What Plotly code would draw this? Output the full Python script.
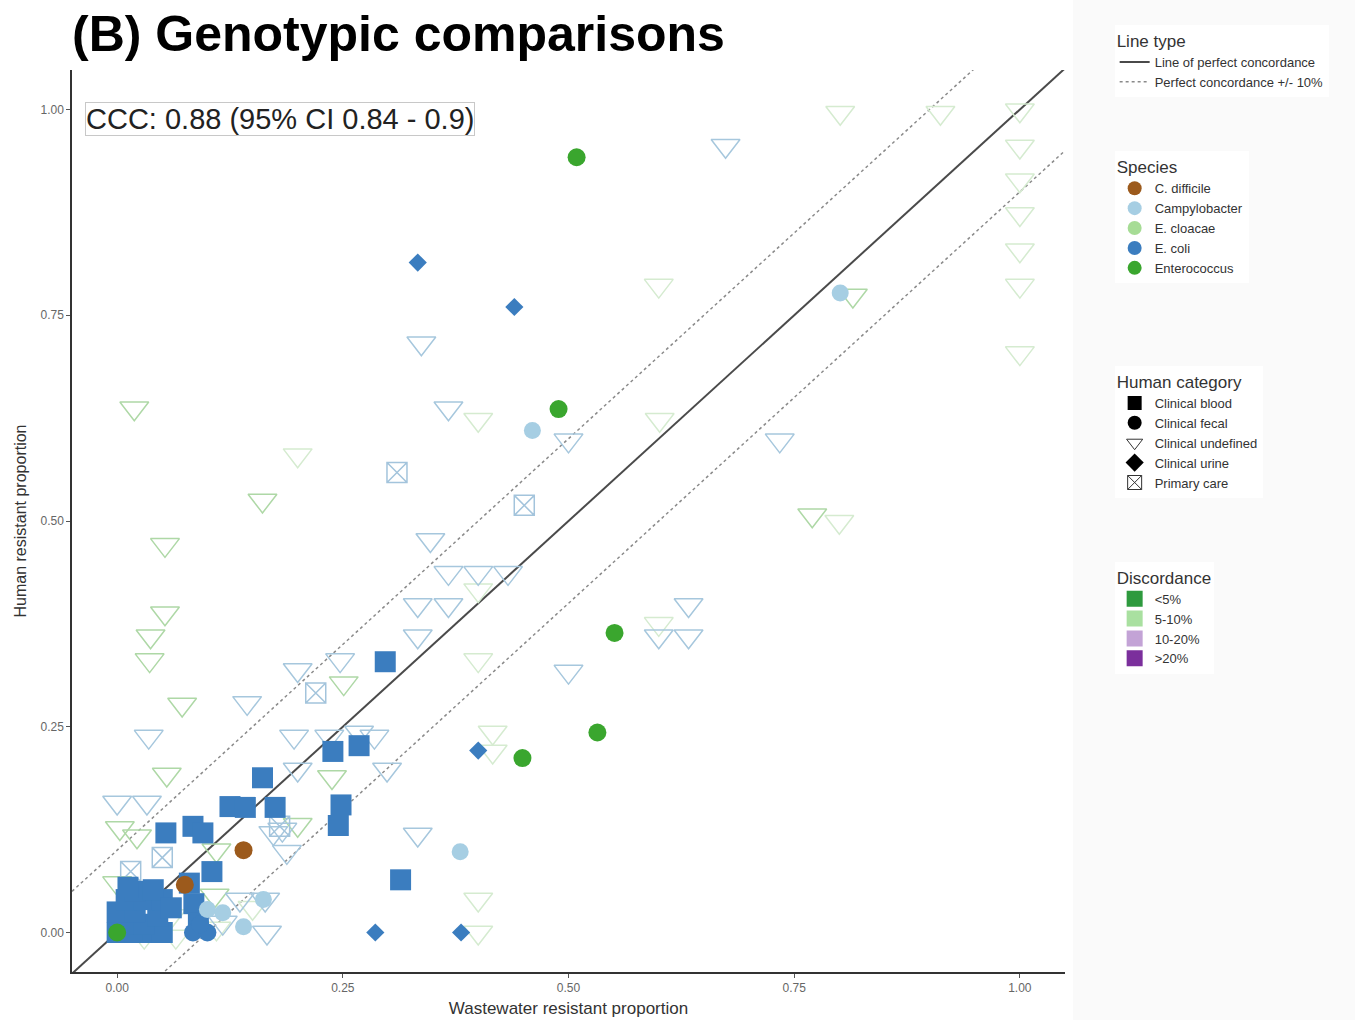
import plotly.graph_objects as go

# ---------------- data ----------------
# E. coli, Clinical blood (filled squares)
ecoli_blood_x = [0.297, 0.239, 0.268, 0.248, 0.245, 0.314, 0.161, 0.125, 0.142, 0.175,
                 0.054, 0.084, 0.095, 0.105, 0.080, 0.085, 0.090,
                 0.000, 0.020, 0.040, 0.050, 0.010, 0.030, 0.000, 0.020, 0.045,
                 0.010, 0.030, 0.050, 0.020, 0.040, 0.060, 0.012]
ecoli_blood_y = [0.329, 0.220, 0.227, 0.155, 0.130, 0.064, 0.188, 0.153, 0.152, 0.152,
                 0.121, 0.129, 0.121, 0.074, 0.060, 0.035, 0.012,
                 0.000, 0.000, 0.000, 0.000, 0.010, 0.010, 0.025, 0.025, 0.020,
                 0.040, 0.040, 0.040, 0.050, 0.052, 0.030, 0.055]
# E. coli, Clinical fecal (filled circles)
ecoli_fecal_x = [0.084, 0.100, 0.092]
ecoli_fecal_y = [0.000, 0.000, 0.010]
# E. coli, Clinical urine (filled diamonds)
ecoli_urine_x = [0.333, 0.440, 0.400, 0.286, 0.381]
ecoli_urine_y = [0.814, 0.760, 0.221, 0.000, 0.000]
# Campylobacter, Clinical fecal
campy_x = [0.460, 0.801, 0.380, 0.100, 0.117, 0.140, 0.162]
campy_y = [0.610, 0.777, 0.098, 0.028, 0.024, 0.007, 0.040]
# C. difficile, Clinical fecal
cdiff_x = [0.140, 0.075]
cdiff_y = [0.100, 0.058]
# Enterococcus, Clinical fecal
entero_x = [0.509, 0.489, 0.551, 0.532, 0.449, 0.000]
entero_y = [0.942, 0.636, 0.364, 0.243, 0.212, 0.000]
# Primary care (boxed cross)
primary_x = [0.310, 0.451, 0.220, 0.050, 0.015, 0.180]
primary_y = [0.559, 0.519, 0.291, 0.091, 0.074, 0.129]
# Clinical undefined (open triangles), three shading groups
und_blue_x = [0.674, 0.337, 0.367, 0.500, 0.734, 0.347, 0.367, 0.400, 0.433, 0.333,
              0.367, 0.633, 0.333, 0.600, 0.633, 0.200, 0.247, 0.500, 0.144, 0.035,
              0.196, 0.235, 0.268, 0.285, 0.299, 0.000, 0.033, 0.173, 0.183, 0.333,
              0.188, 0.166, 0.164, 0.136, 0.117, 0.200]
und_blue_y = [0.956, 0.716, 0.637, 0.598, 0.598, 0.477, 0.437, 0.437, 0.437, 0.398,
              0.398, 0.398, 0.360, 0.360, 0.360, 0.319, 0.331, 0.317, 0.279, 0.238,
              0.238, 0.238, 0.243, 0.238, 0.198, 0.158, 0.158, 0.121, 0.125, 0.119,
              0.098, 0.000, 0.040, 0.040, 0.012, 0.198]
und_green_x = [0.019, 0.161, 0.053, 0.053, 0.037, 0.036, 0.251, 0.072, 0.055, 0.238,
               0.770, 0.815, 0.200, 0.110, 0.003, 0.022, 0.000, 0.108]
und_green_y = [0.637, 0.525, 0.471, 0.388, 0.360, 0.331, 0.303, 0.277, 0.192, 0.189,
               0.507, 0.774, 0.131, 0.100, 0.127, 0.117, 0.060, 0.045]
und_faint_x = [0.801, 0.912, 1.000, 1.000, 1.000, 1.000, 1.000, 1.000, 0.600, 1.000,
               0.400, 0.601, 0.200, 0.800, 0.400, 0.600, 0.400, 0.416, 0.416, 0.400,
               0.400, 0.030, 0.065, 0.110, 0.060, 0.150]
und_faint_y = [0.996, 0.996, 0.999, 0.955, 0.914, 0.873, 0.829, 0.786, 0.786, 0.704,
               0.623, 0.623, 0.580, 0.499, 0.416, 0.375, 0.331, 0.243, 0.220, 0.040,
               0.000, -0.005, -0.005, 0.005, 0.020, 0.030]

# reference lines
line_x = [-0.05, 1.05]
band = 0.10

tick_vals = [0.00, 0.25, 0.50, 0.75, 1.00]
tick_text = ["0.00", "0.25", "0.50", "0.75", "1.00"]

species_names = ["C. difficile", "Campylobacter", "E. cloacae", "E. coli", "Enterococcus"]
species_colors = ["#9c5a1c", "#a6cee3", "#a6dc95", "#3b7dbf", "#3aa62e"]
category_names = ["Clinical blood", "Clinical fecal", "Clinical undefined", "Clinical urine", "Primary care"]
category_symbols = ["square", "circle", "triangle-down-open", "diamond", "square-x-open"]
discord_names = ["<5%", "5-10%", "10-20%", ">20%"]
discord_colors = ["#2e9a3e", "#a9e0a0", "#c3a3d6", "#7b2f9c"]

# ---------------- figure ----------------
FONT = "Liberation Sans, Arial, sans-serif"
fig = go.Figure()

# concordance lines
fig.add_trace(go.Scatter(x=line_x, y=line_x, mode="lines",
                         line=dict(color="#4a4a4a", width=2),
                         name="Line of perfect concordance", legend="legend"))
up_y = [v + band for v in line_x]
lo_y = [v - band for v in line_x]
fig.add_trace(go.Scatter(x=line_x + [None] + line_x, y=up_y + [None] + lo_y, mode="lines",
                         line=dict(color="#8a8a8a", width=1.5, dash="dot"),
                         name="Perfect concordance +/- 10%", legend="legend"))

def pts(x, y, symbol, size, color, lw=0, opacity=1.0):
    if symbol.endswith("open"):
        mk = dict(symbol=symbol, size=size, color=color, line=dict(width=lw, color=color))
    else:
        mk = dict(symbol=symbol, size=size, color=color, line=dict(width=0))
    fig.add_trace(go.Scatter(x=x, y=y, mode="markers", marker=mk, opacity=opacity,
                             showlegend=False, hoverinfo="x+y"))

# open triangles first (underneath)
pts(und_faint_x, und_faint_y, "triangle-down-open", 25, "#d5ebd0", 1.5)
pts(und_green_x, und_green_y, "triangle-down-open", 25, "#aed8a6", 1.5)
pts(und_blue_x, und_blue_y, "triangle-down-open", 25, "#a6c7dd", 1.5)
pts(primary_x, primary_y, "square-x-open", 20, "#a3c4dc", 1.5)
# filled markers
pts(ecoli_blood_x, ecoli_blood_y, "square", 21, species_colors[3])
pts(ecoli_fecal_x, ecoli_fecal_y, "circle", 18, species_colors[3])
pts(ecoli_urine_x, ecoli_urine_y, "diamond", 14, species_colors[3])
pts(campy_x, campy_y, "circle", 17, species_colors[1])
pts(cdiff_x, cdiff_y, "circle", 18, species_colors[0])
pts(entero_x, entero_y, "circle", 18, species_colors[4])

# legend entries
for n, c in zip(species_names, species_colors):
    fig.add_trace(go.Scatter(x=[None], y=[None], mode="markers", name=n, legend="legend2",
                             marker=dict(symbol="circle", size=14, color=c)))
for n, s in zip(category_names, category_symbols):
    mk = dict(symbol=s, size=14, color="black")
    if s.endswith("open"):
        mk["color"] = "#333333"
        mk["line"] = dict(width=1, color="#333333")
    fig.add_trace(go.Scatter(x=[None], y=[None], mode="markers", name=n, legend="legend3",
                             marker=mk))
for n, c in zip(discord_names, discord_colors):
    fig.add_trace(go.Scatter(x=[None], y=[None], mode="markers", name=n, legend="legend4",
                             marker=dict(symbol="square", size=16, color=c)))

leg_common = dict(bgcolor="white", font=dict(family=FONT, size=13, color="#333333"),
                  xanchor="left", yanchor="top", x=1.05, itemwidth=30)
title_font = dict(family=FONT, size=17, color="#333333")

fig.update_layout(
    width=1355, height=1020,
    margin=dict(l=72, r=290, t=70, b=48, autoexpand=False),
    paper_bgcolor="white", plot_bgcolor="white",
    font=dict(family=FONT, color="#333333"),
    title=dict(text="<b>(B) Genotypic comparisons</b>", x=72 / 1355, xanchor="left",
               y=(1020 - 33) / 1020, yanchor="middle", yref="container",
               font=dict(family=FONT, size=50, color="black")),
    xaxis=dict(range=[-0.05, 1.05], tickvals=tick_vals, ticktext=tick_text, automargin=False,
               showgrid=False, zeroline=False, showline=True, linecolor="#333333", linewidth=1.5,
               ticks="outside", ticklen=4, tickcolor="#555555",
               tickfont=dict(family=FONT, size=12, color="#666666"),
               title=dict(text="Wastewater resistant proportion", standoff=8,
                          font=dict(family=FONT, size=17, color="#333333"))),
    yaxis=dict(range=[-0.048, 1.048], tickvals=tick_vals, ticktext=tick_text, automargin=False,
               showgrid=False, zeroline=False, showline=True, linecolor="#333333", linewidth=1.5,
               ticks="outside", ticklen=4, tickcolor="#555555",
               tickfont=dict(family=FONT, size=12, color="#666666"),
               title=dict(text="Human resistant proportion", standoff=10,
                          font=dict(family=FONT, size=16, color="#333333"))),
    legend=dict(title=dict(text="Line type", font=title_font), y=1.05, **leg_common),
    legend2=dict(title=dict(text="Species", font=title_font), y=0.91, **leg_common),
    legend3=dict(title=dict(text="Human category", font=title_font), y=0.672, **leg_common),
    legend4=dict(title=dict(text="Discordance", font=title_font), y=0.455, **leg_common),
    showlegend=True,
    shapes=[dict(type="rect", xref="paper", yref="paper", x0=1.008, x1=1.3, y0=-0.06, y1=1.08,
                 fillcolor="#fafafa", line=dict(width=0), layer="below")],
    annotations=[dict(text="CCC: 0.88 (95% CI 0.84 - 0.9)", x=-0.036, y=0.988,
                      xref="x", yref="y", xanchor="left", yanchor="middle", showarrow=False,
                      font=dict(family=FONT, size=29, color="#222222"),
                      bordercolor="#c8c8c8", borderwidth=1, borderpad=0, bgcolor="white")],
)

fig.write_html("out.html")
